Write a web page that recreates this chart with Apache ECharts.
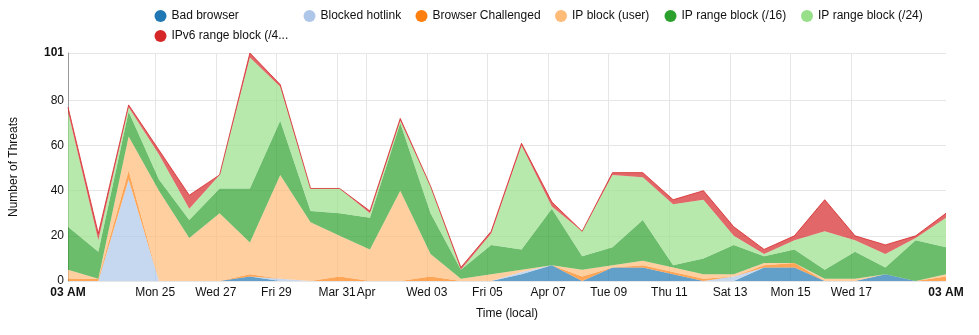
<!DOCTYPE html>
<html>
<head>
<meta charset="utf-8">
<script src="https://cdn.jsdelivr.net/npm/echarts@6/dist/echarts.min.js"></script>
<style>
  html, body { margin: 0; padding: 0; background: #fff; }
  #chart { width: 979px; height: 335px; }
</style>
</head>
<body>
<div id="chart"></div>
<script>
// Daily buckets (03:00 local time, Europe/CET -> CEST on Mar 31)
const pointTimes = [
  '2024-03-22T03:00:00+01:00', '2024-03-23T03:00:00+01:00', '2024-03-24T03:00:00+01:00',
  '2024-03-25T03:00:00+01:00', '2024-03-26T03:00:00+01:00', '2024-03-27T03:00:00+01:00',
  '2024-03-28T03:00:00+01:00', '2024-03-29T03:00:00+01:00', '2024-03-30T03:00:00+01:00',
  '2024-03-31T03:00:00+02:00', '2024-04-01T03:00:00+02:00', '2024-04-02T03:00:00+02:00',
  '2024-04-03T03:00:00+02:00', '2024-04-04T03:00:00+02:00', '2024-04-05T03:00:00+02:00',
  '2024-04-06T03:00:00+02:00', '2024-04-07T03:00:00+02:00', '2024-04-08T03:00:00+02:00',
  '2024-04-09T03:00:00+02:00', '2024-04-10T03:00:00+02:00', '2024-04-11T03:00:00+02:00',
  '2024-04-12T03:00:00+02:00', '2024-04-13T03:00:00+02:00', '2024-04-14T03:00:00+02:00',
  '2024-04-15T03:00:00+02:00', '2024-04-16T03:00:00+02:00', '2024-04-17T03:00:00+02:00',
  '2024-04-18T03:00:00+02:00', '2024-04-19T03:00:00+02:00', '2024-04-20T03:00:00+02:00'
];

const seriesNames = [
  'Bad browser', 'Blocked hotlink', 'Browser Challenged', 'IP block (user)',
  'IP range block (/16)', 'IP range block (/24)', 'IPv6 range block (/48)'
];
const seriesColors = ['#1f77b4', '#aec7e8', '#ff7f0e', '#ffbb78', '#2ca02c', '#98df8a', '#d62728'];

const badBrowser        = [0, 0, 0, 0, 0, 0, 2, 0, 0, 0, 0, 0, 0, 0, 0, 3, 7, 0, 6, 6, 3, 0, 0, 6, 6, 0, 0, 3, 0, 0];
const blockedHotlink    = [0, 0, 45, 0, 0, 0, 0, 1, 0, 0, 0, 0, 0, 0, 0, 1, 0, 0, 0, 0, 0, 0, 2, 0, 0, 0, 0, 0, 0, 0];
const browserChallenged = [1, 1, 4, 0, 0, 0, 1, 0, 0, 2, 0, 0, 2, 0, 0, 0, 0, 2, 0, 1, 1, 1, 0, 1, 2, 0, 0, 0, 0, 2];
const ipBlockUser       = [4, 0, 15, 40, 19, 30, 14, 46, 26, 18, 14, 40, 10, 1, 3, 1, 0, 3, 1, 2, 2, 2, 1, 1, 0, 1, 1, 0, 0, 1];
const ipRange16         = [19, 12, 11, 5, 8, 11, 24, 24, 5, 10, 14, 30, 18, 4, 13, 9, 25, 6, 8, 18, 1, 7, 13, 3, 6, 4, 12, 3, 18, 12];
const ipRange24         = [51, 5, 2, 11, 5, 6, 58, 15, 10, 11, 2, 1, 12, 0, 5, 46, 1, 11, 32, 19, 27, 26, 4, 1, 4, 17, 5, 6, 1, 13];
const ipv6Range48       = [2, 3, 1, 2, 6, 0, 2, 1, 0, 0, 1, 1, 0, 1, 1, 1, 2, 0, 1, 2, 2, 4, 4, 2, 2, 14, 2, 4, 1, 2];

const seriesValues = [badBrowser, blockedHotlink, browserChallenged, ipBlockUser, ipRange16, ipRange24, ipv6Range48];

// X axis: grid lines at local midnights, labels also at both ends
const gridTimes = [
  '2024-03-25T00:00:00+01:00', '2024-03-27T00:00:00+01:00', '2024-03-29T00:00:00+01:00',
  '2024-03-31T00:00:00+01:00', '2024-04-01T00:00:00+02:00', '2024-04-03T00:00:00+02:00',
  '2024-04-05T00:00:00+02:00', '2024-04-07T00:00:00+02:00', '2024-04-09T00:00:00+02:00',
  '2024-04-11T00:00:00+02:00', '2024-04-13T00:00:00+02:00', '2024-04-15T00:00:00+02:00',
  '2024-04-17T00:00:00+02:00'
];
const gridLabels = ['Mon 25', 'Wed 27', 'Fri 29', 'Mar 31', 'Apr', 'Wed 03', 'Fri 05',
  'Apr 07', 'Tue 09', 'Thu 11', 'Sat 13', 'Mon 15', 'Wed 17'];
const edgeLabel = '03 AM';

const yTicks = [0, 20, 40, 60, 80, 101];

// legend layout: two rows, first column shared by both rows
const legendLeft = [154.5, 303.5, 415.5, 555, 664.5, 801, 154.5];
const legendTop = [10, 10, 10, 10, 10, 10, 30];

const FONT = 'Arial, "Liberation Sans", sans-serif';

const xs = pointTimes.map(t => Date.parse(t));
const xMin = xs[0];
const xMax = xs[xs.length - 1];
const gridMs = gridTimes.map(t => Date.parse(t));
const labelMs = [xMin].concat(gridMs, [xMax]);
const labelText = {};
gridMs.forEach((v, i) => { labelText[v] = gridLabels[i]; });

const topIndex = seriesNames.length - 1;

// each row is [count, timestamp]; the count dimension is the one that gets stacked
const series = seriesNames.map((name, si) => ({
  name: name,
  type: 'line',
  stack: 'total',
  symbol: 'none',
  dimensions: [{ name: 'threats', type: 'float' }, { name: 'time', type: 'time' }],
  encode: { x: 'time', y: 'threats' },
  lineStyle: si === topIndex
    ? { width: 1, color: seriesColors[si], opacity: 0.8 }
    : { width: 0, color: seriesColors[si], opacity: 0 },
  areaStyle: { color: seriesColors[si], opacity: 0.7 },
  itemStyle: { color: seriesColors[si] },
  data: seriesValues[si].map((v, i) => [v, xs[i]])
}));

const legends = seriesNames.map((n, i) => ({
  left: legendLeft[i], top: legendTop[i], padding: 0,
  icon: 'circle', itemWidth: 12, itemHeight: 12,
  textStyle: { fontFamily: FONT, fontSize: 12, color: '#111' },
  formatter: name => (name.length > 20 ? name.slice(0, 20) + '...' : name),
  data: [n]
}));

const chart = echarts.init(document.getElementById('chart'), null, { renderer: 'canvas' });
chart.setOption({
  animation: false,
  color: seriesColors,
  textStyle: { fontFamily: FONT },
  legend: legends,
  grid: { left: 67, right: 33, top: 53, bottom: 54, containLabel: false },
  xAxis: {
    type: 'value',
    min: xMin, max: xMax,
    name: 'Time (local)',
    nameLocation: 'middle',
    nameGap: 27,
    nameTextStyle: { fontFamily: FONT, fontSize: 12, color: '#111' },
    axisLine: { show: false },
    axisTick: { show: false, customValues: gridMs },
    splitLine: { show: true, lineStyle: { color: '#e6e6e6', width: 1 } },
    axisLabel: {
      customValues: labelMs,
      margin: 6,
      fontFamily: FONT, fontSize: 12, color: '#111',
      formatter: v => (v === xMin || v === xMax) ? '{b|' + edgeLabel + '}' : (labelText[v] || ''),
      rich: { b: { fontWeight: 'bold', fontFamily: FONT, fontSize: 12, color: '#111' } }
    }
  },
  yAxis: {
    type: 'value',
    min: 0, max: 101,
    name: 'Number of Threats',
    nameLocation: 'middle',
    nameGap: 48,
    nameRotate: 90,
    nameTextStyle: { fontFamily: FONT, fontSize: 12, color: '#111' },
    axisLine: { show: true, lineStyle: { color: '#999', width: 1 } },
    axisTick: { show: false, customValues: yTicks },
    splitLine: { show: true, lineStyle: { color: '#e6e6e6', width: 1 } },
    axisLabel: {
      customValues: yTicks,
      margin: 4,
      fontFamily: FONT, fontSize: 12, color: '#111',
      formatter: v => v === 101 ? '{b|101}' : String(v),
      rich: { b: { fontWeight: 'bold', fontFamily: FONT, fontSize: 12, color: '#111' } }
    }
  },
  series: series
});
</script>
</body>
</html>
